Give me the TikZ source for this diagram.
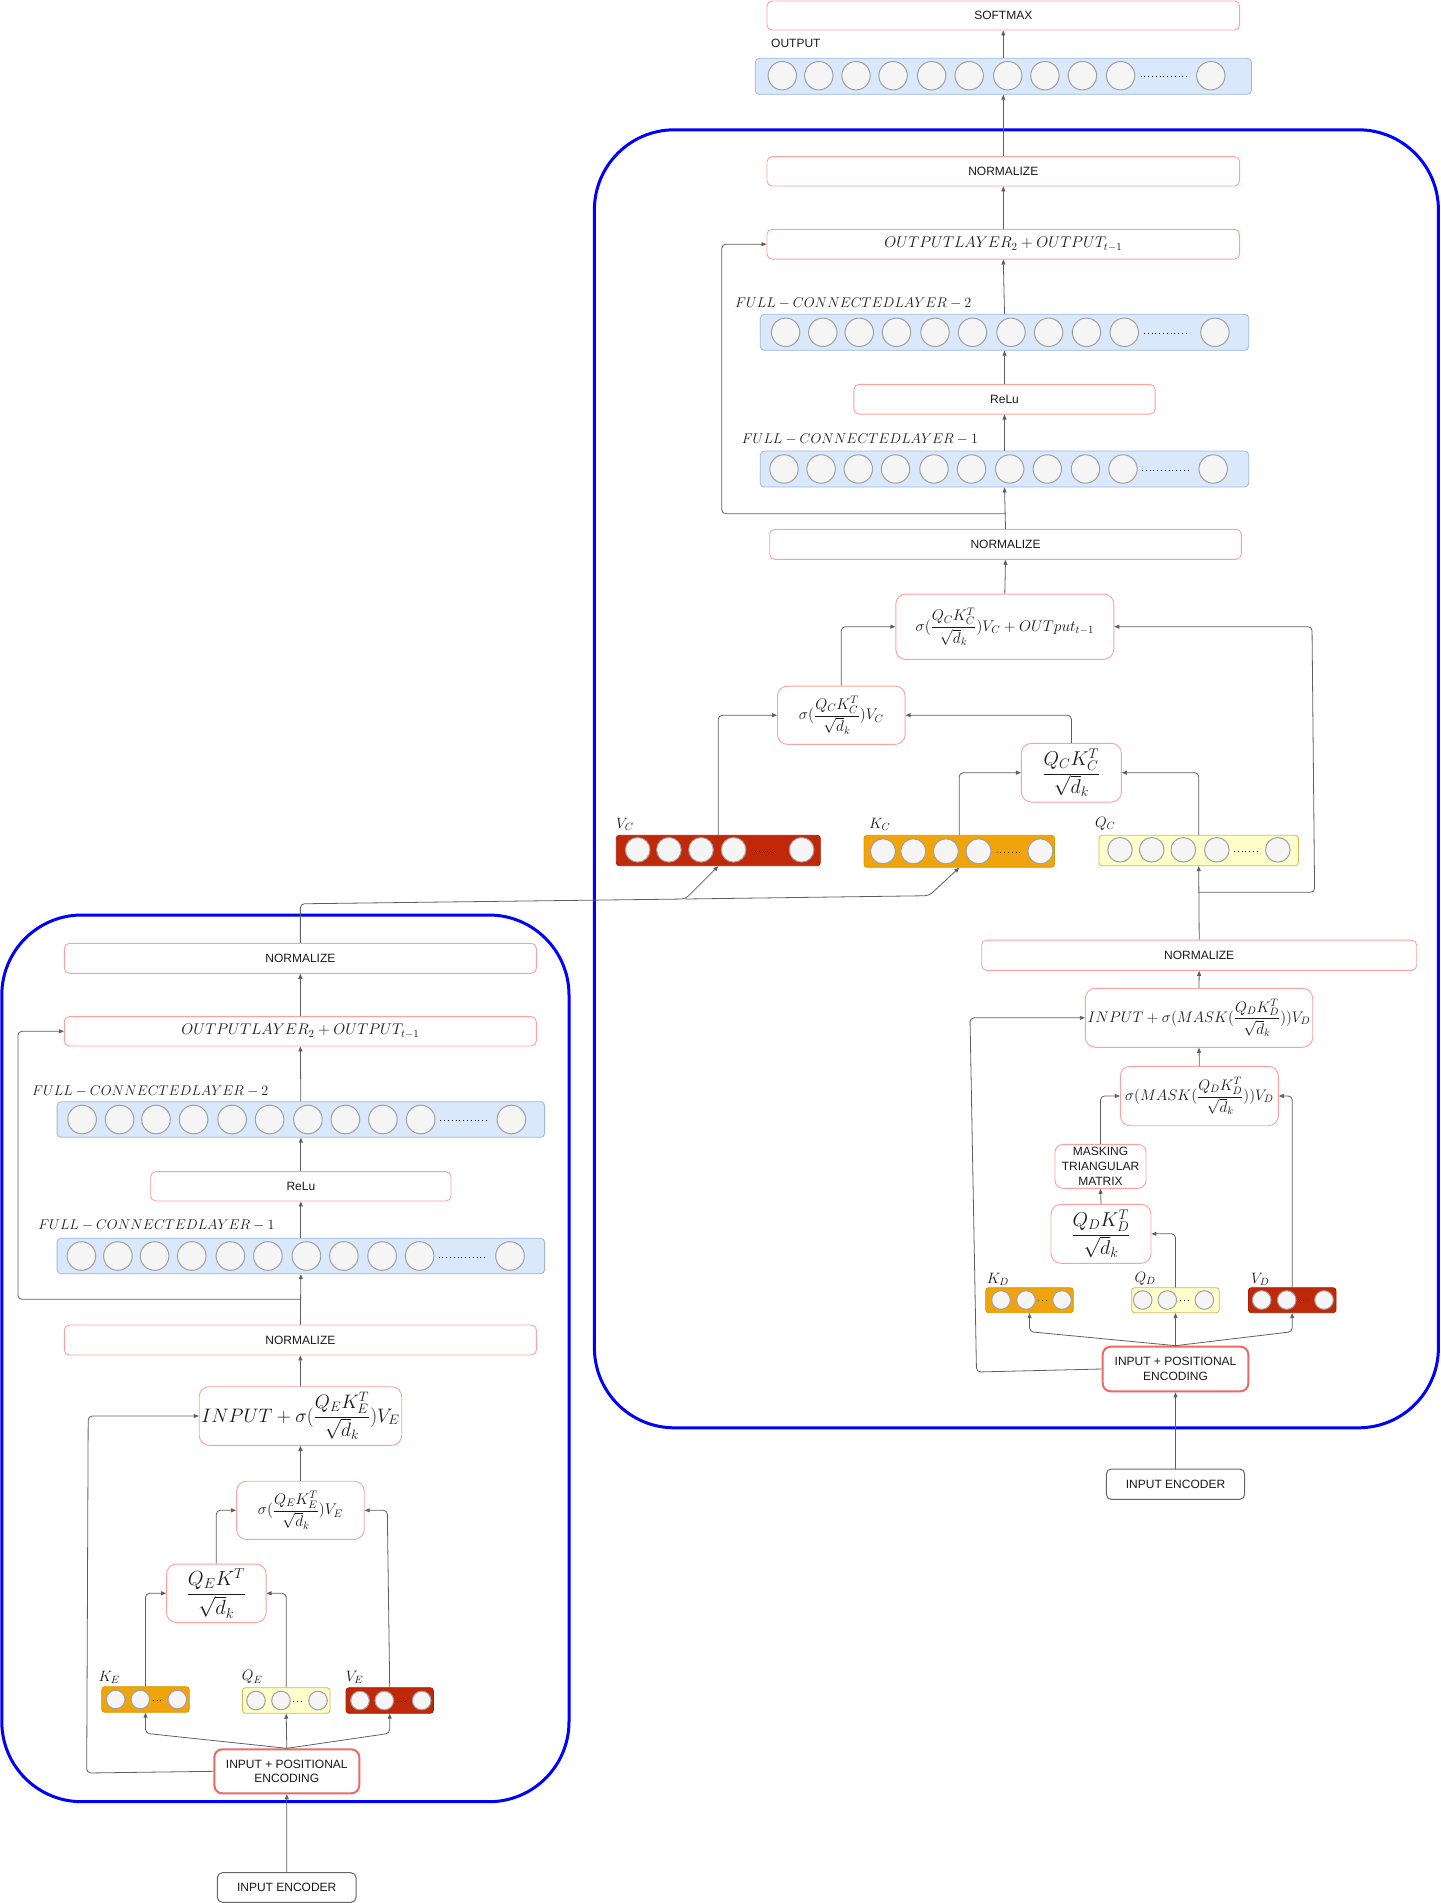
\RequirePackage{fix-cm}
\documentclass[tikz,border=0pt]{standalone}
\usepackage{fontspec}
\setmainfont{Liberation Sans}
\usetikzlibrary{arrows.meta,calc}
\definecolor{pinkline}{HTML}{FF9F9F}
\definecolor{posline}{HTML}{EA6B66}
\definecolor{grayline}{HTML}{666666}
\definecolor{txt}{HTML}{1A1A1A}
\definecolor{barblue}{HTML}{9DB8E0}
\definecolor{fillblue}{HTML}{DAE8FC}
\definecolor{orfill}{HTML}{F0A30A}
\definecolor{orline}{HTML}{D79B00}
\definecolor{yfill}{HTML}{FFFFCC}
\definecolor{yline}{HTML}{D6B656}
\definecolor{rfill}{HTML}{C0280A}
\definecolor{rline}{HTML}{A81E05}
\definecolor{neurfill}{HTML}{F5F5F5}
\definecolor{neurline}{HTML}{A0A0A0}
\definecolor{connc}{HTML}{5F5F5F}
\newcommand{\neuronrow}[3]{\foreach \xx in {#1}{\draw[neuron] (\xx,#2) circle[radius=#3];}}
\newcommand{\dotrow}[3]{\draw[dotline] (#1,#3) -- (#2,#3);}
\tikzset{
 box/.style={draw=pinkline, line width=0.9pt, rounded corners=5pt, fill=white, inner sep=0pt,
   font=\fontsize{12}{14.7}\selectfont, text=txt, align=center},
 fbox/.style={box, rounded corners=10pt, font=\fontsize{15.5}{18}\selectfont},
 bigf/.style={fbox, font=\fontsize{20}{24}\selectfont},
 grayb/.style={box, draw=grayline, line width=1pt},
 posb/.style={box, draw=posline, line width=2pt, rounded corners=8pt},
 bbar/.style={draw=barblue, fill=fillblue, line width=0.8pt, rounded corners=4pt, inner sep=0pt},
 obar/.style={bbar, draw=orline, fill=orfill, rounded corners=3pt},
 ybar/.style={bbar, draw=yline, fill=yfill, rounded corners=3pt},
 rbar/.style={bbar, draw=rline, fill=rfill, rounded corners=3pt},
 neuron/.style={draw=neurline, fill=neurfill, line width=1pt},
 dotline/.style={draw=black, line width=1pt, dash pattern=on 1pt off 2.8pt},
 conn/.style={draw=connc, line width=0.8pt, rounded corners=4pt, -{Triangle[length=5pt,width=4pt]}},
 lbl/.style={inner sep=0pt, anchor=west, text=txt, font=\fontsize{15}{18}\selectfont},
 tlbl/.style={inner sep=0pt, anchor=west, text=txt, font=\fontsize{12}{14}\selectfont},
 frame/.style={draw=blue, line width=3pt, rounded corners=80pt},
}
\begin{document}
\begin{tikzpicture}[x=1pt,y=-1pt]
\useasboundingbox (0,0) rectangle (1440,1903);
% frames
\draw[frame] (594.4,129.8) rectangle (1438.4,1427.8);
\draw[frame] (1.8,915) rectangle (569,1801.7);

% ---------------- decoder ----------------
\node[box, minimum width=472.6pt, minimum height=29pt] (softmax) at (1003.3,15.5) {SOFTMAX};
\node[tlbl] (outlbl) at (771,43.3) {OUTPUT};
\node[bbar, minimum width=496.2pt, minimum height=36pt] (outbar) at (1003.3,76.3) {};
\neuronrow{782.3,818.8,856,893.1,931.6,969.2,1007.7,1044.9,1082.4,1120.6,1210.8}{75.7}{14.2pt}
\dotrow{1140.5}{1186.2}{76}
\node[box, minimum width=472.6pt, minimum height=29.3pt] (norm3) at (1003.3,171.3) {NORMALIZE};
\node[box, minimum width=472.6pt, minimum height=29.7pt, font=\fontsize{15.5}{18}\selectfont] (outl) at (1003.3,244.2) {$OUTPUTLAYER_2 + OUTPUT_{t-1}$};
\node[lbl, font=\fontsize{14.1}{18}\selectfont] (fc2lbl) at (735,303.3) {$FULL-CONNECTEDLAYER-2$};
\node[bbar, minimum width=488.4pt, minimum height=36pt] (fc2bar) at (1004.5,332.3) {};
\neuronrow{785.6,822.8,859.3,896.5,935,972.5,1011,1048.6,1086.5,1124.3,1214.9}{332.3}{14.2pt}
\dotrow{1144}{1189.6}{333}
\node[box, minimum width=301.2pt, minimum height=29.7pt] (relu) at (1004.5,399.2) {ReLu};
\node[lbl, font=\fontsize{14.1}{18}\selectfont] (fc1lbl) at (741.7,439.3) {$FULL-CONNECTEDLAYER-1$};
\node[bbar, minimum width=488.4pt, minimum height=36pt] (fc1bar) at (1004.5,469) {};
\neuronrow{784,821.1,858.3,895.5,934,971.5,1009.7,1047.3,1085.5,1123,1213.2}{469}{14.2pt}
\dotrow{1142}{1187.8}{470}
\node[box, minimum width=471.6pt, minimum height=30pt] (norm2) at (1005.5,544.3) {NORMALIZE};
\node[fbox, minimum width=218pt, minimum height=65.3pt] (attc2) at (1004.8,626.7) {$\displaystyle\sigma(\frac{Q_CK_C^T}{\sqrt{d}_k})V_C+OUTput_{t-1}$};
\node[fbox, minimum width=127.7pt, minimum height=58.3pt] (attc1) at (841.3,715.2) {$\displaystyle\sigma(\frac{Q_CK_C^T}{\sqrt{d}_k})V_C$};
\node[bigf, minimum width=100pt, minimum height=58.7pt] (qkc) at (1071.4,772.7) {$\displaystyle\frac{Q_CK_C^T}{\sqrt{d}_k}$};

\node[lbl] (vclbl) at (616,824) {$V_C$};
\node[rbar, minimum width=204pt, minimum height=30.4pt] (vcbar) at (718.3,850.5) {};
\neuronrow{637.7,668.9,701,733.6,801.6}{849.8}{12.3pt}
\dotrow{751.3}{777.8}{851}
\node[lbl] (kclbl) at (869,824) {$K_C$};
\node[obar, minimum width=190.4pt, minimum height=32pt] (kcbar) at (959.2,851.3) {};
\neuronrow{883,913.3,945.9,978.5,1040.4}{851.3}{12.5pt}
\dotrow{996.6}{1022.7}{852}
\node[lbl] (qclbl) at (1094.9,824) {$Q_C$};
\node[ybar, minimum width=199.3pt, minimum height=30.4pt] (qcbar) at (1198.7,850.5) {};
\neuronrow{1120,1151.7,1183.3,1216.8,1277.8}{849.8}{12.3pt}
\dotrow{1234}{1260}{851}

\node[box, minimum width=435pt, minimum height=30.3pt] (normd) at (1199.2,955.2) {NORMALIZE};
\node[fbox, font=\fontsize{15.3}{18}\selectfont, minimum width=227.4pt, minimum height=59pt] (inpd) at (1199,1017.8) {$\displaystyle INPUT+\sigma(MASK(\frac{Q_DK_D^T}{\sqrt{d}_k}))V_D$};
\node[fbox, font=\fontsize{15.3}{18}\selectfont, minimum width=158pt, minimum height=59.4pt] (maskd) at (1199.3,1096) {$\displaystyle\sigma(MASK(\frac{Q_DK_D^T}{\sqrt{d}_k}))V_D$};
\node[box, rounded corners=8pt, minimum width=91pt, minimum height=44pt] (masktri) at (1100.5,1166.3) {MASKING\\TRIANGULAR\\MATRIX};
\node[bigf, minimum width=100pt, minimum height=59pt] (qkd) at (1101,1233.8) {$\displaystyle\frac{Q_DK_D^T}{\sqrt{d}_k}$};

\node[lbl] (kdlbl) at (986.7,1279) {$K_D$};
\node[obar, minimum width=87.6pt, minimum height=25pt] (kdbar) at (1029.5,1300.2) {};
\neuronrow{1001,1026,1062}{1300}{9.3pt}
\dotrow{1038.3}{1049.3}{1300.5}
\node[lbl] (qdlbl) at (1134.3,1279) {$Q_D$};
\node[ybar, minimum width=87.6pt, minimum height=25pt] (qdbar) at (1175.5,1300.2) {};
\neuronrow{1142.7,1167.3,1204.3}{1300}{9.3pt}
\dotrow{1180}{1190.7}{1300.5}
\node[lbl] (vdlbl) at (1251,1279) {$V_D$};
\node[rbar, minimum width=87.6pt, minimum height=25pt] (vdbar) at (1292.2,1300.2) {};
\neuronrow{1261.7,1286.7,1324}{1300}{9.3pt}
\dotrow{1299.3}{1310}{1300.5}

\node[posb, minimum width=145.6pt, minimum height=44.7pt] (posd) at (1175.5,1369) {INPUT + POSITIONAL\\ENCODING};
\node[grayb, minimum width=138.3pt, minimum height=30.4pt] (encd) at (1175.5,1484.2) {INPUT ENCODER};

% ---------------- encoder ----------------
\node[box, minimum width=472pt, minimum height=30pt] (norme3) at (300.35,958.3) {NORMALIZE};
\node[box, minimum width=472pt, minimum height=29.3pt, font=\fontsize{15.5}{18}\selectfont] (outle) at (300.35,1031.3) {$OUTPUTLAYER_2 + OUTPUT_{t-1}$};
\node[lbl, font=\fontsize{14.1}{18}\selectfont] (fc2elbl) at (32,1091) {$FULL-CONNECTEDLAYER-2$};
\node[bbar, minimum width=487.5pt, minimum height=35.6pt] (fc2ebar) at (300.85,1119.5) {};
\neuronrow{82.1,119.6,156,193.6,232.1,269.6,307.9,345.4,382.9,420.7,511.4}{1119.5}{14.3pt}
\dotrow{440.4}{486.4}{1120.5}
\node[box, minimum width=300.3pt, minimum height=29.3pt] (relue) at (300.85,1186.3) {ReLu};
\node[lbl, font=\fontsize{14.1}{18}\selectfont] (fc1elbl) at (38.2,1225.7) {$FULL-CONNECTEDLAYER-1$};
\node[bbar, minimum width=487.5pt, minimum height=35.6pt] (fc1ebar) at (300.85,1256) {};
\neuronrow{81.4,117.9,154.6,191.8,230.4,267.9,306.4,343.9,382.1,419.6,510}{1256}{14.3pt}
\dotrow{438.6}{485}{1257}
\node[box, minimum width=472pt, minimum height=30pt] (norme1) at (300.35,1340) {NORMALIZE};
\node[fbox, font=\fontsize{19.5}{22}\selectfont, minimum width=202.5pt, minimum height=58.6pt] (inpe) at (300.5,1416) {$\displaystyle INPUT+\sigma(\frac{Q_EK_E^T}{\sqrt{d}_k})V_E$};
\node[fbox, minimum width=127.7pt, minimum height=58.2pt] (atte) at (300.4,1510.3) {$\displaystyle\sigma(\frac{Q_EK_E^T}{\sqrt{d}_k})V_E$};
\node[bigf, font=\fontsize{20.5}{24}\selectfont, minimum width=99.5pt, minimum height=58.5pt] (qke) at (216.3,1593.3) {$\displaystyle\frac{Q_EK^T}{\sqrt{d}_k}$};

\node[lbl] (kelbl) at (98.3,1677.3) {$K_E$};
\node[obar, minimum width=87.6pt, minimum height=25.6pt] (kebar) at (145.5,1699.5) {};
\neuronrow{115.7,140.3,177.3}{1699.5}{9.3pt}
\dotrow{152.7}{163.3}{1700}
\node[lbl] (qelbl) at (241.7,1677.3) {$Q_E$};
\node[ybar, minimum width=87.6pt, minimum height=25.6pt] (qebar) at (286.2,1700.5) {};
\neuronrow{256,281,318}{1700.5}{9.3pt}
\dotrow{293}{304}{1701}
\node[lbl] (velbl) at (345.7,1677.3) {$V_E$};
\node[rbar, minimum width=87.3pt, minimum height=25.6pt] (vebar) at (389.7,1700.5) {};
\neuronrow{360,384.3,421.7}{1700.5}{9.3pt}
\dotrow{397}{408.3}{1701}

\node[posb, minimum width=145pt, minimum height=44pt] (pose) at (286.8,1771.3) {INPUT + POSITIONAL\\ENCODING};
\node[grayb, minimum width=138.7pt, minimum height=29.6pt] (ence) at (286.7,1887.5) {INPUT ENCODER};

% ---------------- connectors: decoder ----------------
\draw[conn] (encd.north) -- (posd.south);
\draw[conn] (posd.north) -- (1029.5,1331.7) -- (kdbar.south);
\draw[conn] (posd.north) -- (qdbar.south);
\draw[conn] (posd.north) -- (1292.2,1331.7) -- (vdbar.south);
\draw[conn] (qdbar.north) |- (qkd.east);
\draw[conn] (qkd.north) -- (masktri.south);
\draw[conn] (masktri.north) |- (maskd.west);
\draw[conn] (vdbar.north) |- (maskd.east);
\draw[conn] (maskd.north) -- (inpd.south);
\draw[conn] (posd.west) -- (976.5,1372) -- (970,1017.8) -- (inpd.west);
\draw[conn] (inpd.north) -- (normd.south);
\draw[conn] (normd.north) -- (qcbar.south);
\coordinate (fb) at (1198.9,892.3);
\draw[conn] (fb) -- (1314.6,892.3) -- (1312,626.7) -- (attc2.east);
\draw[conn] (qcbar.north) |- (qkc.east);
\draw[conn] (kcbar.north) |- (qkc.west);
\draw[conn] (qkc.north) |- (attc1.east);
\draw[conn] (vcbar.north) |- (attc1.west);
\draw[conn] (attc1.north) |- (attc2.west);
\draw[conn] (attc2.north) -- (norm2.south);
\draw[conn] (norm2.north) -- (fc1bar.south);
\coordinate (sk) at (1005.5,513.7);
\draw[conn] (sk) -- (721.8,513.7) -- (721.8,244.2) -- (outl.west);
\draw[conn] (fc1bar.north) -- (relu.south);
\draw[conn] (relu.north) -- (fc2bar.south);
\draw[conn] (fc2bar.north) -- (outl.south);
\draw[conn] (outl.north) -- (norm3.south);
\draw[conn] (norm3.north) -- (outbar.south);
\draw[conn] (outbar.north) -- (softmax.south);

% ---------------- connectors: encoder ----------------
\draw[conn] (ence.north) -- (pose.south);
\draw[conn] (pose.north) -- (145.5,1733.3) -- (kebar.south);
\draw[conn] (pose.north) -- (qebar.south);
\draw[conn] (pose.north) -- (389.7,1733.3) -- (vebar.south);
\draw[conn] (pose.west) -- (86.7,1773) -- (88.2,1416) -- (inpe.west);
\draw[conn] (kebar.north) |- (qke.west);
\draw[conn] (qebar.north) |- (qke.east);
\draw[conn] (qke.north) |- (atte.west);
\draw[conn] (vebar.north) -- (387.3,1510.3) -- (atte.east);
\draw[conn] (atte.north) -- (inpe.south);
\draw[conn] (inpe.north) -- (norme1.south);
\draw[conn] (norme1.north) -- (fc1ebar.south);
\coordinate (ske) at (300.35,1299.2);
\draw[conn] (ske) -- (17.9,1299.2) -- (17.9,1031.3) -- (outle.west);
\draw[conn] (fc1ebar.north) -- (relue.south);
\draw[conn] (relue.north) -- (fc2ebar.south);
\draw[conn] (fc2ebar.north) -- (outle.south);
\draw[conn] (outle.north) -- (norme3.south);
\coordinate (br) at (685.4,899);
\draw[conn] (norme3.north) -- (300.35,903.8) -- (br) -- (vcbar.south);
\draw[conn] (br) -- (929,895.7) -- (kcbar.south);
\end{tikzpicture}
\end{document}
